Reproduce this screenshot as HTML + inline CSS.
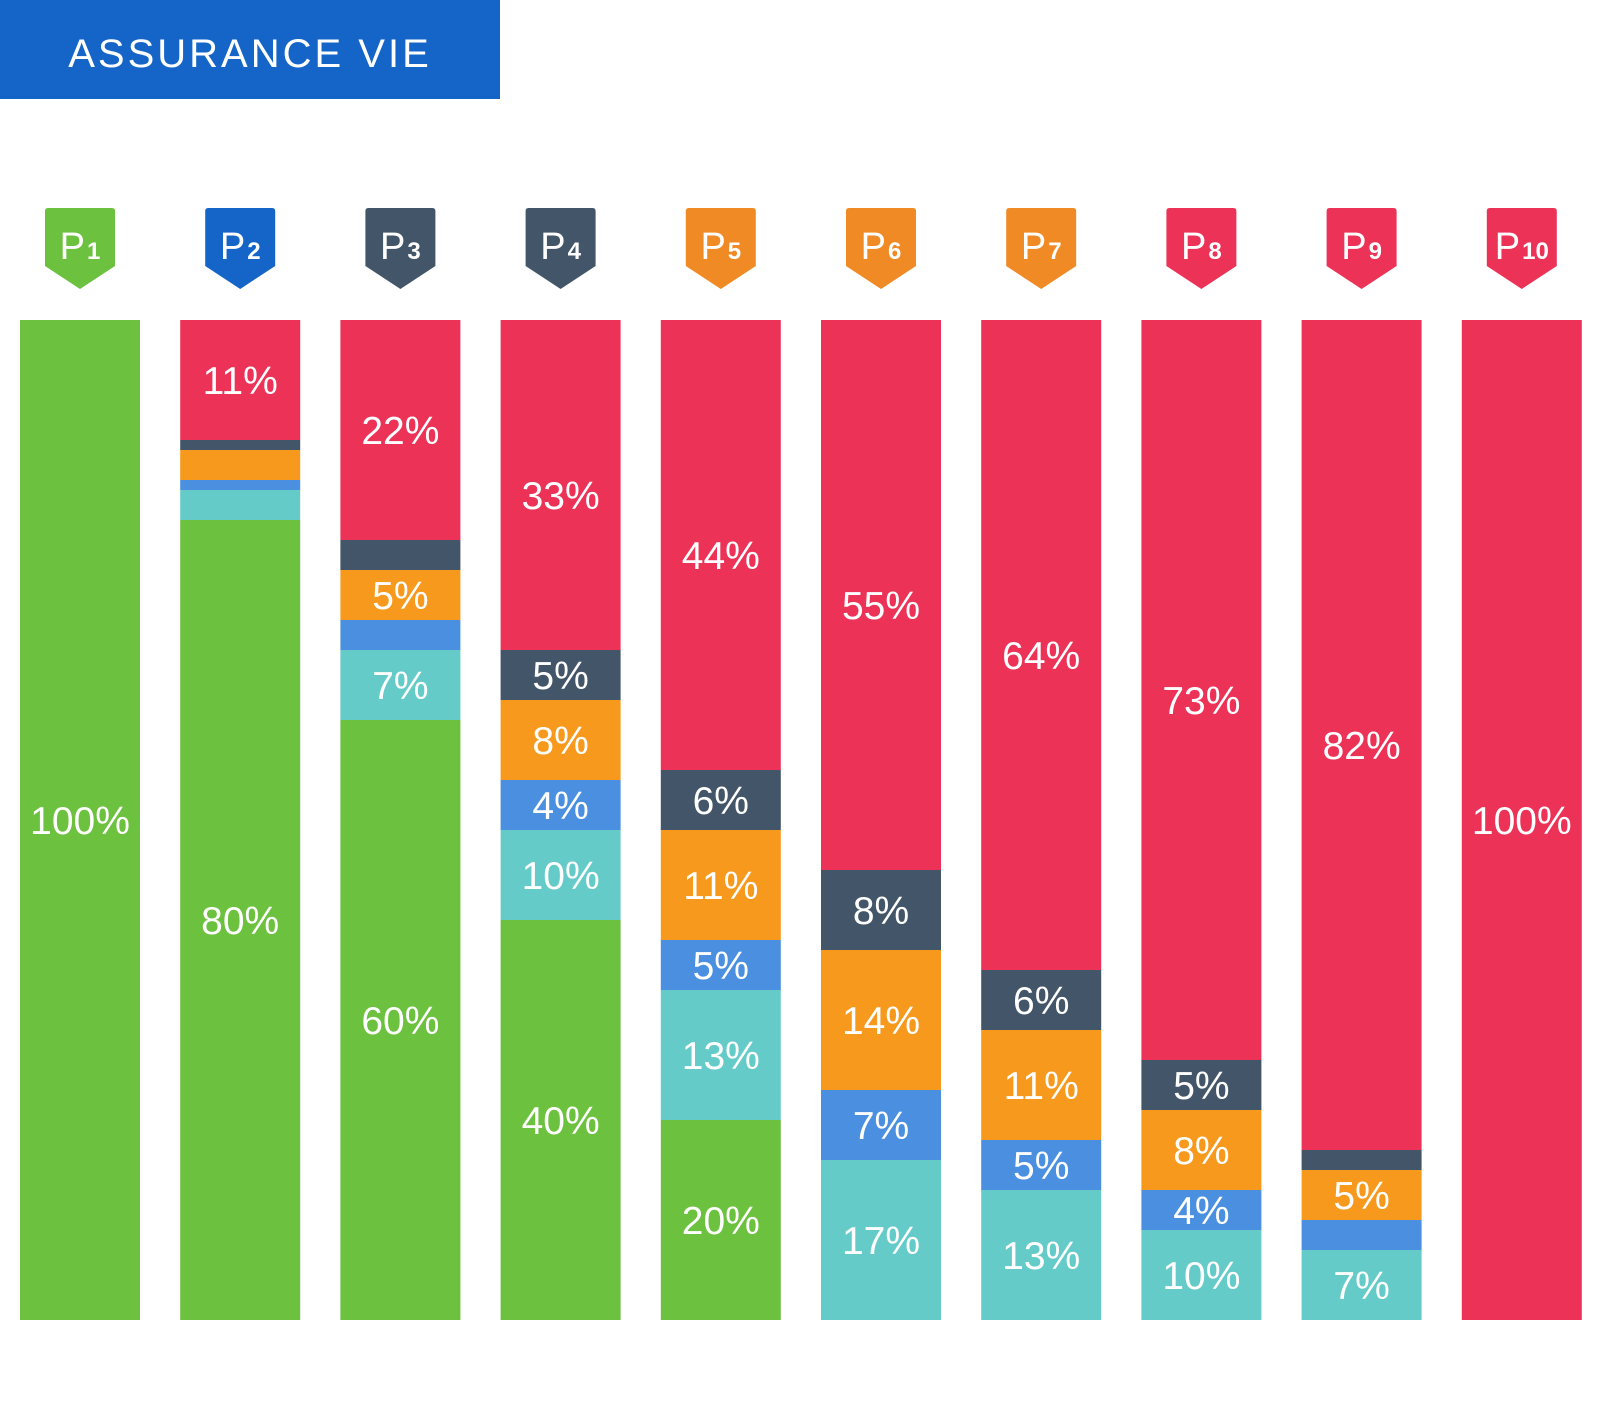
<!DOCTYPE html>
<html><head><meta charset="utf-8"><style>
html,body{margin:0;padding:0;background:#fff;width:1600px;height:1410px;overflow:hidden}
svg{display:block}
text{font-family:"Liberation Sans",sans-serif;fill:#fff}
</style></head><body>
<svg id="chart" width="1600" height="1410" xmlns="http://www.w3.org/2000/svg">
<rect x="0" y="0" width="500" height="99" fill="#1565c8"/>
<text x="250" y="67" text-anchor="middle" font-size="40" letter-spacing="3">ASSURANCE VIE</text>
<g id="bars"></g>
</svg>
<script>
const categories = ["P1","P2","P3","P4","P5","P6","P7","P8","P9","P10"];
// bottom to top: green, teal, blue, orange, dark, red
const greenVals  = [100,80,60,40,20,0,0,0,0,0];
const tealVals   = [0,3,7,9,13,16,13,9,7,0];
const blueVals   = [0,1,3,5,5,7,5,4,3,0];
const orangeVals = [0,3,5,8,11,14,11,8,5,0];
const darkVals   = [0,1,3,5,6,8,6,5,2,0];
const redVals    = [0,12,22,33,45,55,65,74,83,100];
const greenLabels  = ["100%","80%","60%","40%","20%","","","","",""];
const tealLabels   = ["","","7%","10%","13%","17%","13%","10%","7%",""];
const blueLabels   = ["","","","4%","5%","7%","5%","4%","",""];
const orangeLabels = ["","","5%","8%","11%","14%","11%","8%","5%",""];
const darkLabels   = ["","","","5%","6%","8%","6%","5%","",""];
const redLabels    = ["","11%","22%","33%","44%","55%","64%","73%","82%","100%"];
const badgeColors = ["#6cc13e","#1565c8","#435568","#435568","#f08a24","#f08a24","#f08a24","#ec3357","#ec3357","#ec3357"];

const series = [
  {name:"green", vals:greenVals, labels:greenLabels, color:"#6cc13e"},
  {name:"teal", vals:tealVals, labels:tealLabels, color:"#65cbc8"},
  {name:"blue", vals:blueVals, labels:blueLabels, color:"#4a8fe0"},
  {name:"orange", vals:orangeVals, labels:orangeLabels, color:"#f7991c"},
  {name:"dark", vals:darkVals, labels:darkLabels, color:"#435568"},
  {name:"red", vals:redVals, labels:redLabels, color:"#ec3357"}
];
const NS="http://www.w3.org/2000/svg";
const g=document.getElementById('bars');
const barW=120, top0=320, bottom=1320;
function xScale(i){return 20+i*160.2;}
function yScale(v){return bottom-(v/100)*(bottom-top0);}
function mk(tag,attrs){const e=document.createElementNS(NS,tag);for(const k in attrs)e.setAttribute(k,attrs[k]);g.appendChild(e);return e;}

categories.forEach((c,i)=>{
  const x=xScale(i), cx=x+barW/2;
  let cum=0;
  series.forEach(s=>{
    const v=s.vals[i];
    if(v<=0) return;
    const y1=yScale(cum+v), y0=yScale(cum);
    const r=mk('rect',{x:x,y:y1,width:barW,height:y0-y1,fill:s.color});
    
    
    if(s.labels[i]){
      const h=y0-y1;
      const off=(s.name==='red' && h>250 && h<1000)?10:0;
      const t=mk('text',{x:cx,y:(y0+y1)/2+14+off,'text-anchor':'middle','font-size':39});
      t.textContent=s.labels[i];
      
      
    }
    cum+=v;
  });
  const bx=cx-35, bt=208, sh=266, tip=289;
  const p=mk('path',{d:`M${bx+3} ${bt} H${bx+67} Q${bx+70} ${bt} ${bx+70} ${bt+3} V${sh} L${cx} ${tip} L${bx} ${sh} V${bt+3} Q${bx} ${bt} ${bx+3} ${bt} Z`,fill:badgeColors[i]});
  
  
  const t=mk('text',{x:cx,y:259,'text-anchor':'middle'});
  
  
  const a=document.createElementNS(NS,'tspan');a.setAttribute('font-size','38');a.textContent='P';
  const b=document.createElementNS(NS,'tspan');b.setAttribute('font-size','24');b.setAttribute('font-weight','bold');b.setAttribute('dx','2');b.textContent=c.slice(1);
  t.appendChild(a);t.appendChild(b);
});
</script>
</body></html>
